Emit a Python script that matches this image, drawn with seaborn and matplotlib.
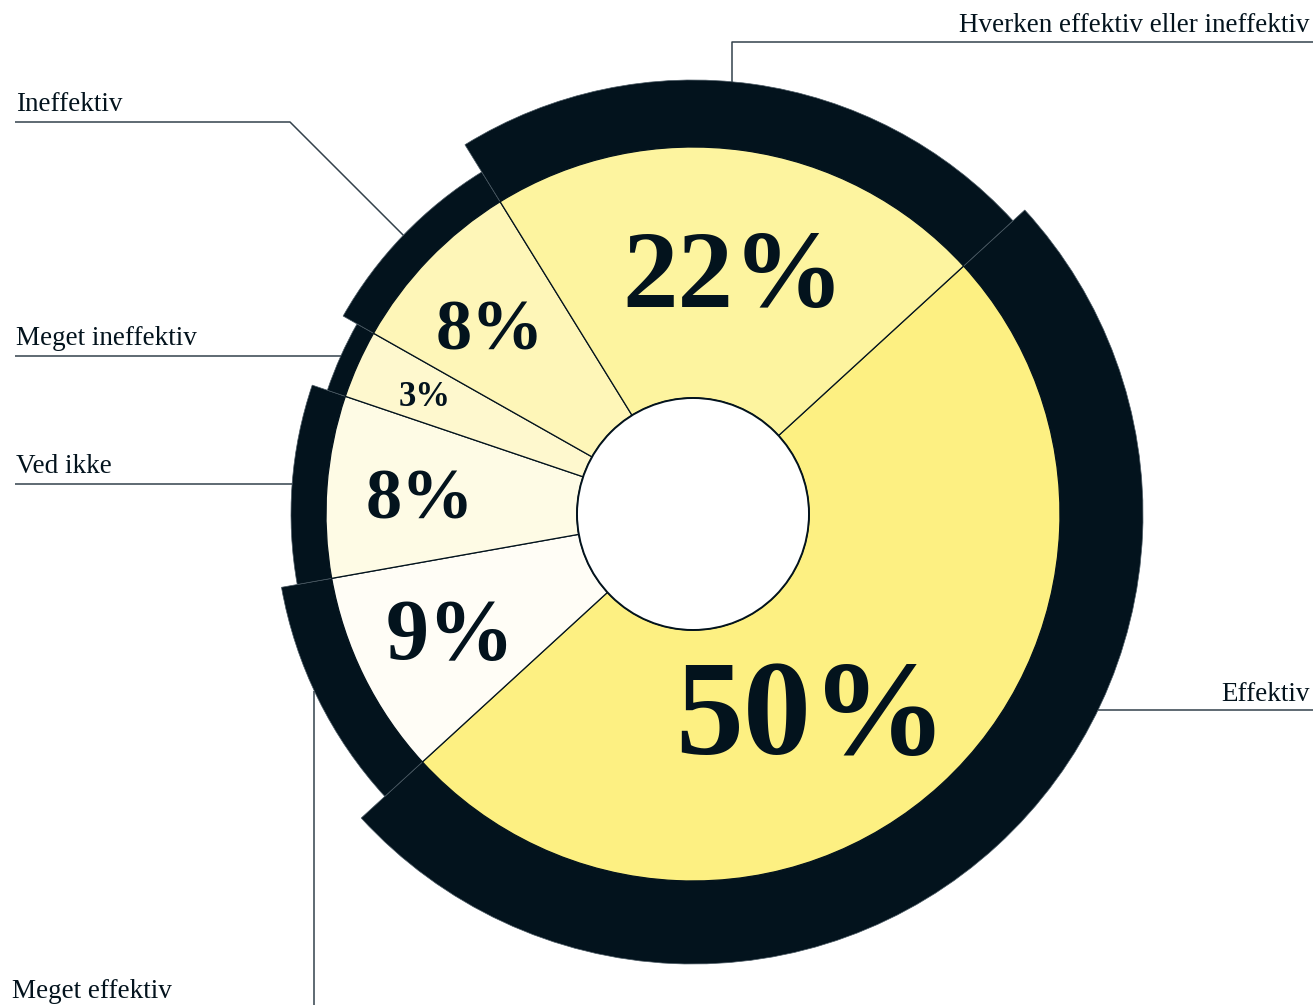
import numpy as np
import pandas as pd
import matplotlib
matplotlib.use("Agg")
import matplotlib.pyplot as plt
from matplotlib.patches import Circle
import seaborn as sns

# ---- data (clockwise from the upper right) ----
categories = ["Effektiv", "Meget effektiv", "Ved ikke", "Meget ineffektiv",
              "Ineffektiv", "Hverken effektiv eller ineffektiv"]
shares = [50, 9, 8, 3, 8, 22]
value_labels = ["50%", "9%", "8%", "3%", "8%", "22%"]

# ---- styling ----
sns.set_theme(style="white")
plt.rcParams["font.family"] = ["Liberation Serif", "DejaVu Serif"]

W, H = 1315, 1005
ink = "#03131D"
rule = "#33414B"
slice_colors = ["#FDF082", "#FFFDF6", "#FEFBE5", "#FEF8CE", "#FEF6B8", "#FDF49F"]
value_sizes = [98, 62, 52, 25, 52, 80]           # pt, per slice
value_radius = [226, 268, 274, 294, 278, 249]    # px from centre
value_shift = [-11, -1, 0, 0, 1, -1.5]           # deg, nudge from slice middle

cx, cy = 693, 514          # centre in pixel layout (y down)
r_hole = 116
r_fill = 367
start = 42.5

def P(x, y):
    """pixel layout (y down) -> data coordinates (y up)"""
    return x, H - y

fig = plt.figure(figsize=(W / 100, H / 100), dpi=100)
ax = fig.add_axes([0, 0, 1, 1])
center = P(cx, cy)

# outer black ring: thickness steps up with the rank of each share
ranks = pd.Series(shares).rank(method="dense").astype(int) - 1
ring_outer = r_fill + 19 + 16 * ranks.values

ring, _ = ax.pie(shares, radius=r_fill, center=center, startangle=start,
                 counterclock=False, colors=[ink] * len(shares),
                 wedgeprops=dict(edgecolor="#4A5963", linewidth=0.5))
for w, ro in zip(ring, ring_outer):
    w.set_radius(ro)
    w.set_zorder(1)

# yellow donut
fill, _ = ax.pie(shares, radius=r_fill, center=center, startangle=start,
                 counterclock=False, colors=slice_colors,
                 wedgeprops=dict(width=r_fill - r_hole, edgecolor=ink,
                                 linewidth=0.9))
for w in fill:
    w.set_zorder(2)

ax.add_patch(Circle(center, r_hole, facecolor="white", edgecolor=ink,
                    linewidth=1.4, zorder=3))

# value labels inside the slices
for w, lab, fs, rr, sh in zip(fill, value_labels, value_sizes, value_radius, value_shift):
    mid = np.deg2rad((w.theta1 + w.theta2) / 2 + sh)
    x = center[0] + rr * np.cos(mid)
    y = center[1] + rr * np.sin(mid)
    ax.text(x, y, lab, fontsize=fs, fontweight="bold", color=ink,
            ha="center", va="center_baseline", zorder=4)

# leader lines and category names
def ring_point(i, ang=None):
    w = ring[i]
    a = (w.theta1 + w.theta2) / 2 if ang is None else ang
    a = np.deg2rad(a)
    return (center[0] + ring_outer[i] * np.cos(a),
            center[1] + ring_outer[i] * np.sin(a))

lbl_kw = dict(fontsize=19.5, color=ink, va="baseline", zorder=5)
line_kw = dict(color=rule, linewidth=1.1, zorder=5, solid_capstyle="butt")

# Effektiv
x0, y0 = ring_point(0, -25.8)
ax.plot([x0, P(1313, 0)[0]], [y0, y0], **line_kw)
ax.text(1310, y0 + 9, categories[0], ha="right", **lbl_kw)

# Meget effektiv
x0, y0 = ring_point(1, 205)
ax.plot([x0, x0], [y0, P(0, H)[1]], **line_kw)
ax.text(12, P(0, 998)[1], categories[1], ha="left", **lbl_kw)

# Ved ikke
x0, y0 = ring_point(2)
ax.plot([x0, 15], [y0, y0], **line_kw)
ax.text(16, y0 + 11, categories[2], ha="left", **lbl_kw)

# Meget ineffektiv
x0, y0 = ring_point(3)
ax.plot([x0, 15], [y0, y0], **line_kw)
ax.text(16, y0 + 11, categories[3], ha="left", **lbl_kw)

# Ineffektiv
x0, y0 = ring_point(4)
kx, ky = P(290, 122)
ax.plot([x0, kx, 15], [y0, ky, ky], **line_kw)
ax.text(16, ky + 11, categories[4], ha="left", **lbl_kw)

# Hverken effektiv eller ineffektiv
x0, y0 = ring_point(5, 84.9)
ty = P(0, 42)[1]
ax.plot([x0, x0, 1313], [y0, ty, ty], **line_kw)
ax.text(1310, ty + 10, categories[5], ha="right", **lbl_kw)

ax.set_xlim(0, W)
ax.set_ylim(0, H)
ax.set_aspect("equal", adjustable="box")
ax.axis("off")

fig.savefig("out.png", dpi=100, facecolor="white")
